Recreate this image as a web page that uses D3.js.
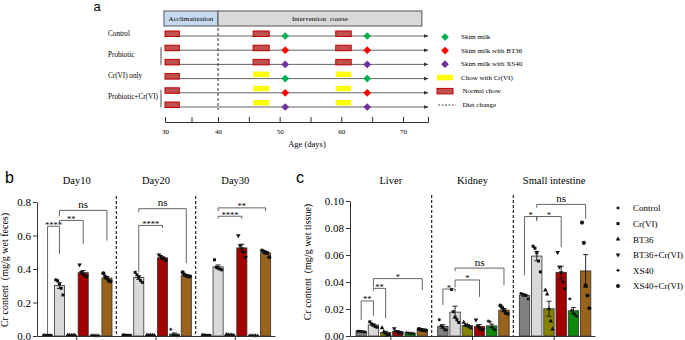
<!DOCTYPE html>
<html>
<head>
<meta charset="utf-8">
<script src="https://cdn.jsdelivr.net/npm/d3@7"></script>
<style>
body { margin: 0; background: #fff; }
text { font-family: "Liberation Serif", "Times New Roman", serif; fill: #000; }
.plabel { font-family: "Liberation Sans", Arial, sans-serif; }
</style>
</head>
<body>
<script>
// ---------- data ----------
// panel a : study design
var rowGroups = [["Control", 0, 0], ["Probiotic", 1, 2], ["Cr(VI) only", 3, 3], ["Probiotic+Cr(VI)", 4, 5]];
var rowChow = ["normal", "normal", "normal", "cr", "cr", "cr"];
var rowMilk = ["skim", "bt36", "xs40", "skim", "bt36", "xs40"];
var chowDays = [[30, 32.7], [45.7, 48.3], [59.1, 61.6]];
var milkDays = [50.9, 64.2];
var phases = [["Acclimatization", 29.8, 40], ["Intervention  course", 40, 73.4]];
var ageTicks = [30, 35, 40, 45, 50, 55, 60, 65, 70];
var legendA = ["Skim milk", "Skim milk with BT36", "Skim milk with XS40", "Chow with Cr(VI)", "Normal chow", "Diet change"];

// panels b & c : bar charts
var seriesNames = ["Control", "Cr(VI)", "BT36", "BT36+Cr(VI)", "XS40", "XS40+Cr(VI)"];

var fecesDays = ["Day10", "Day20", "Day30"];
var day10 = [[0.006, 0.005, 0.005, 0.004, 0.005], [0.335, 0.33, 0.31, 0.285, 0.245], [0.005, 0.004, 0.004, 0.003, 0.004],
             [0.425, 0.38, 0.37, 0.36, 0.355], [0.004, 0.004, 0.003, 0.003, 0.003], [0.375, 0.355, 0.345, 0.33, 0.325]];
var day20 = [[0.007, 0.006, 0.005, 0.005, 0.004], [0.38, 0.365, 0.35, 0.33, 0.32], [0.005, 0.004, 0.004, 0.004, 0.003],
             [0.485, 0.475, 0.465, 0.46, 0.45], [0.04, 0.006, 0.004, 0.003, 0.003], [0.38, 0.365, 0.36, 0.355, 0.355]];
var day30 = [[0.008, 0.006, 0.005, 0.004, 0.004], [0.455, 0.41, 0.405, 0.40, 0.395], [0.008, 0.006, 0.005, 0.005, 0.004],
             [0.60, 0.54, 0.52, 0.50, 0.47], [0.004, 0.004, 0.003, 0.003, 0.003], [0.51, 0.505, 0.50, 0.495, 0.47]];
var fecesTicks = [0, 0.2, 0.4, 0.6, 0.8];
// [group, from series, to series, bracket y, left leg end, right leg end, label]
var fecesSig = [[0, 0, 1, 0.655, 0.01, 0.49, "****"], [0, 1, 3, 0.69, 0.665, 0.55, "**"], [0, 1, 5, 0.75, 0.715, 0.57, "ns"],
                [1, 1, 3, 0.66, 0.38, 0.645, "****"], [1, 1, 5, 0.76, 0.74, 0.435, "ns"],
                [2, 1, 3, 0.715, 0.70, 0.70, "****"], [2, 1, 5, 0.765, 0.745, 0.745, "**"]];

var tissues = ["Liver", "Kidney", "Small intestine"];
var liver = [[0.0036, 0.0035, 0.0033, 0.0032, 0.003], [0.0105, 0.009, 0.008, 0.007, 0.0065], [0.006, 0.003, 0.002, 0.001, 0.001],
             [0.0055, 0.0035, 0.003, 0.0025, 0.002], [0.0026, 0.0022, 0.002, 0.0019, 0.0018], [0.0052, 0.0048, 0.0045, 0.0043, 0.004]];
var kidney = [[0.012, 0.0075, 0.0065, 0.0045, 0.0045], [0.0345, 0.018, 0.014, 0.012, 0.01], [0.01, 0.008, 0.008, 0.007, 0.006],
              [0.012, 0.0075, 0.006, 0.005, 0.005], [0.011, 0.0105, 0.0065, 0.005, 0.0045], [0.0225, 0.021, 0.019, 0.017, 0.0165]];
var intestine = [[0.0315, 0.031, 0.0305, 0.030, 0.0275], [0.0665, 0.065, 0.0615, 0.0555, 0.0475], [0.034, 0.031, 0.02, 0.011, 0.005],
                 [0.062, 0.051, 0.047, 0.04, 0.035], [0.0275, 0.019, 0.017, 0.0155, 0.0145], [0.084, 0.069, 0.0375, 0.03, 0.0205]];
var tissueTicks = [0, 0.02, 0.04, 0.06, 0.08, 0.10];
var tissueSig = [[0, 0, 1, 0.026, 0.012, 0.015, "**"], [0, 1, 2, 0.0353, 0.0335, 0.013, "**"], [0, 1, 5, 0.0425, 0.036, 0.034, "*"],
                 [1, 0, 1, 0.0348, 0.023, 0.033, "*"], [1, 1, 3, 0.0415, 0.036, 0.029, "*"], [1, 1, 5, 0.0503, 0.048, 0.0378, "ns"],
                 [2, 0, 1, 0.0885, 0.045, 0.085, "*"], [2, 1, 3, 0.0885, 0.0865, 0.066, "*"], [2, 1, 5, 0.0975, 0.095, 0.087, "ns"]];

// ---------- styles ----------
var barColors = ["#808080", "#d9d9d9", "#878200", "#a30000", "#0c8a0c", "#9a631c"];
var shapes = [d3.symbolCircle, d3.symbolSquare, d3.symbolTriangle, d3.symbolTriangle, d3.symbolCross, d3.symbolCircle];
var shapeSize = [7, 9, 9, 9, 6, 13];
var shapeRot = [0, 0, 0, 180, 0, 0];
var milkColors = {skim: "#00b050", bt36: "#ff0000", xs40: "#7030a0"};

var svg = d3.select("body").append("svg").attr("width", 685).attr("height", 340);

// ================= panel a =================
var ax = d3.scaleLinear().domain([30, 40, 70, 74.5]).range([165, 218, 403, 428]);
var ay = d3.scalePoint().domain(d3.range(6)).range([36, 107]);
var ga = svg.append("g");

svg.append("defs").append("marker")
    .attr("id", "arr").attr("viewBox", "0 0 10 10").attr("refX", 9).attr("refY", 5)
    .attr("markerWidth", 5).attr("markerHeight", 5).attr("orient", "auto")
  .append("path").attr("d", "M0,1L10,5L0,9z").attr("fill", "#333");

svg.append("text").attr("class", "plabel").attr("x", 97).attr("y", 11)
    .attr("text-anchor", "middle").style("font-size", "13px").text("a");

// header boxes
ga.selectAll("rect.phase").data(phases).enter().append("rect")
    .attr("x", function(d) { return ax(d[1]); })
    .attr("width", function(d) { return ax(d[2]) - ax(d[1]); })
    .attr("y", 11).attr("height", 15)
    .attr("fill", function(d, i) { return i == 0 ? "#c6d9f0" : "#d9d9d9"; })
    .attr("stroke", "#555").attr("stroke-width", 1);
ga.selectAll("text.phase").data(phases).enter().append("text")
    .attr("x", function(d) { return (ax(d[1]) + ax(d[2])) / 2; })
    .attr("y", 21).attr("text-anchor", "middle").style("font-size", "7px")
    .style("white-space", "pre")
    .text(function(d) { return d[0]; });

// row labels
ga.selectAll("text.row").data(rowGroups).enter().append("text")
    .attr("x", 108).attr("y", function(d) { return (ay(d[1]) + ay(d[2])) / 2 - 0.5; })
    .style("font-size", "7.2px")
    .text(function(d) { return d[0]; });
ga.selectAll("line.brk").data(rowGroups.filter(function(d) { return d[1] != d[2]; })).enter().append("line")
    .attr("x1", 161).attr("x2", 161)
    .attr("y1", function(d) { return ay(d[1]) - 3; })
    .attr("y2", function(d) { return ay(d[2]) + 0.5; })
    .attr("stroke", "#222").attr("stroke-width", 0.8);

// timelines
var rows = ga.selectAll("g.row").data(d3.range(6)).enter().append("g");
rows.append("line")
    .attr("x1", ax(30)).attr("x2", ax(74.5))
    .attr("y1", function(r) { return ay(r); }).attr("y2", function(r) { return ay(r); })
    .attr("stroke", "#555").attr("stroke-width", 0.9).attr("marker-end", "url(#arr)");
rows.each(function(r) {
  var row = d3.select(this);
  chowDays.forEach(function(c, i) {
    var t = i == 0 ? "normal" : rowChow[r];
    row.append("rect")
        .attr("x", ax(c[0])).attr("width", ax(c[1]) - ax(c[0]))
        .attr("y", t == "normal" ? ay(r) - 5 : ay(r) - 7).attr("height", 5.5)
        .attr("fill", t == "normal" ? "#c0504d" : "#ffff00")
        .attr("stroke", t == "normal" ? "#c00000" : "none").attr("stroke-width", 1);
  });
  milkDays.forEach(function(m) {
    row.append("path")
        .attr("d", d3.symbol(d3.symbolSquare, 30)())
        .attr("transform", "translate(" + ax(m) + "," + ay(r) + ") rotate(45)")
        .attr("fill", milkColors[rowMilk[r]]);
  });
});

// diet change line
ga.append("line").attr("x1", ax(40)).attr("x2", ax(40)).attr("y1", 28).attr("y2", 110)
    .attr("stroke", "#333").attr("stroke-width", 1).attr("stroke-dasharray", "3,2");

// age axis
var aAxis = ga.append("g").attr("transform", "translate(0,122)")
    .call(d3.axisBottom(ax).tickValues(ageTicks).tickSizeInner(-5).tickSizeOuter(-5).tickPadding(7)
          .tickFormat(function(d) { return d % 10 ? "" : d; }));
aAxis.selectAll("path,line").attr("stroke", "#333");
aAxis.selectAll("text").style("font-family", "Liberation Serif").style("font-size", "7px").attr("fill", "#000");
ga.append("text").attr("x", 307).attr("y", 147).attr("text-anchor", "middle")
    .style("font-size", "8.5px").text("Age (days)");

// legend a
var ly = d3.scalePoint().domain(d3.range(6)).range([37, 105]);
var la = ga.selectAll("g.leg").data(legendA).enter().append("g");
la.append("text").attr("x", function(d, i) { return i < 4 ? 461 : 462.5; })
    .attr("y", function(d, i) { return ly(i) + 2; })
    .style("font-size", "7px").text(function(d) { return d; });
la.each(function(d, i) {
  var g = d3.select(this);
  if (i < 3) {
    g.append("path").attr("d", d3.symbol(d3.symbolSquare, 30)())
        .attr("transform", "translate(445," + ly(i) + ") rotate(45)")
        .attr("fill", milkColors[["skim", "bt36", "xs40"][i]]);
  } else if (i < 5) {
    g.append("rect").attr("x", 437).attr("width", 16).attr("y", ly(i) - 3).attr("height", 5.5)
        .attr("fill", i == 3 ? "#ffff00" : "#c0504d")
        .attr("stroke", i == 3 ? "none" : "#c00000").attr("stroke-width", 1);
  } else {
    g.append("line").attr("x1", 438).attr("x2", 456).attr("y1", ly(i)).attr("y2", ly(i))
        .attr("stroke", "#333").attr("stroke-width", 0.9).attr("stroke-dasharray", "2,1.5");
  }
});

// ================= panels b & c =================
function sem(a) { return d3.deviation(a) / Math.sqrt(a.length); }

function barPanel(cfg) {
  var g = svg.append("g");
  var x0 = d3.scaleBand().domain(cfg.groups).range(cfg.xr);
  var x1 = d3.scaleBand().domain(d3.range(seriesNames.length)).range(cfg.inner).paddingInner(0.15);
  var y = d3.scaleLinear().domain(cfg.yd).range([336, cfg.ytop]);
  var cx = function(gi, s) { return x0(cfg.groups[gi]) + x1(s) + x1.bandwidth() / 2; };

  // separators
  g.selectAll("line.sep").data(cfg.groups.slice(1)).enter().append("line")
      .attr("x1", function(d) { return x0(d); }).attr("x2", function(d) { return x0(d); })
      .attr("y1", cfg.ytop - 6).attr("y2", 336)
      .attr("stroke", "#222").attr("stroke-width", 1.2).attr("stroke-dasharray", "3,2");

  // group titles
  g.selectAll("text.gt").data(cfg.groups).enter().append("text")
      .attr("x", function(d) { return x0(d) + x0.bandwidth() / 2; })
      .attr("y", 184).attr("text-anchor", "middle").style("font-size", "10.5px")
      .text(function(d) { return d; });

  cfg.data.forEach(function(sets, gi) {
    var gg = g.append("g");
    gg.selectAll("rect").data(sets).enter().append("rect")
        .attr("x", function(d, s) { return x0(cfg.groups[gi]) + x1(s); })
        .attr("width", x1.bandwidth())
        .attr("y", function(d) { return y(d3.mean(d)); })
        .attr("height", function(d) { return 336 - y(d3.mean(d)); })
        .attr("fill", function(d, s) { return barColors[s]; })
        .attr("stroke", "#333").attr("stroke-width", 0.8);
    sets.forEach(function(pts, s) {
      var m = d3.mean(pts), e = sem(pts), x = cx(gi, s);
      var p = "M" + x + "," + y(m - e) + "V" + y(m + e) +
              "M" + (x - 2.5) + "," + y(m + e) + "h5" +
              "M" + (x - 2.5) + "," + y(m - e) + "h5";
      gg.append("path").attr("d", p).attr("stroke", "#111").attr("stroke-width", 0.9).attr("fill", "none");
      pts.forEach(function(v, i) {
        gg.append("path").attr("d", d3.symbol(shapes[s], shapeSize[s])())
            .attr("transform", "translate(" + (x + (i - 2) * 1.8) + "," + y(v) + ") rotate(" + shapeRot[s] + ")")
            .attr("fill", "#111");
      });
    });
  });

  // significance brackets
  cfg.sig.forEach(function(b) {
    var xa = cx(b[0], b[1]), xb = cx(b[0], b[2]);
    g.append("path")
        .attr("d", "M" + xa + "," + y(b[4]) + "V" + y(b[3]) + "H" + xb + "V" + y(b[5]))
        .attr("fill", "none").attr("stroke", "#555").attr("stroke-width", 0.9);
    var ns = b[6] == "ns";
    g.append("text").attr("x", (xa + xb) / 2)
        .attr("y", ns ? y(b[3]) - 2.5 : y(b[3]) + 1.5)
        .attr("text-anchor", "middle").style("font-size", ns ? "11px" : "8.5px")
        .text(b[6]);
  });

  // axes
  var yAx = g.append("g").attr("transform", "translate(" + cfg.xr[0] + ",0)")
      .call(d3.axisLeft(y).tickValues(cfg.ticks).tickFormat(d3.format(cfg.fmt)).tickSize(4).tickSizeOuter(0).tickPadding(2));
  var xAx = g.append("g").attr("transform", "translate(0,336)")
      .call(d3.axisBottom(x0).tickFormat("").tickSize(4).tickSizeOuter(0));
  g.selectAll(".tick line, .domain").attr("stroke", "#333").attr("stroke-width", 1);
  yAx.selectAll("text").style("font-family", "Liberation Serif").style("font-size", "11px").attr("fill", "#000");

  g.append("text").attr("transform", "translate(" + cfg.labX + "," + cfg.labY + ") rotate(-90)")
      .attr("text-anchor", "middle").style("font-size", "10px").style("white-space", "pre")
      .text(cfg.ylabel);
}

barPanel({groups: fecesDays, data: [day10, day20, day30], xr: [37, 275], inner: [5.5, 75],
          yd: [0, 0.8], ytop: 202, ticks: fecesTicks, fmt: ".1f", sig: fecesSig,
          ylabel: "Cr content  (mg/g wet feces)", labX: 8, labY: 270});
barPanel({groups: tissues, data: [liver, kidney, intestine], xr: [350, 595], inner: [6, 77.5],
          yd: [0, 0.1], ytop: 201, ticks: tissueTicks, fmt: ".2f", sig: tissueSig,
          ylabel: "Cr content  (mg/g wet tissue)", labX: 311, labY: 262});

svg.append("text").attr("class", "plabel").attr("x", 5).attr("y", 183).style("font-size", "16px").text("b");
svg.append("text").attr("class", "plabel").attr("x", 296).attr("y", 183).style("font-size", "16px").text("c");

// legend c
var lc = d3.scalePoint().domain(d3.range(6)).range([208, 286]);
var lg = svg.selectAll("g.lc").data(seriesNames).enter().append("g");
lg.append("path")
    .attr("d", function(d, s) { return d3.symbol(shapes[s], shapeSize[s])(); })
    .attr("transform", function(d, s) { return "translate(618," + lc(s) + ") rotate(" + shapeRot[s] + ")"; })
    .attr("fill", "#111");
lg.append("text").attr("x", 633).attr("y", function(d, s) { return lc(s) + 3.3; })
    .style("font-size", "9px").text(function(d) { return d; });
</script>
</body>
</html>
